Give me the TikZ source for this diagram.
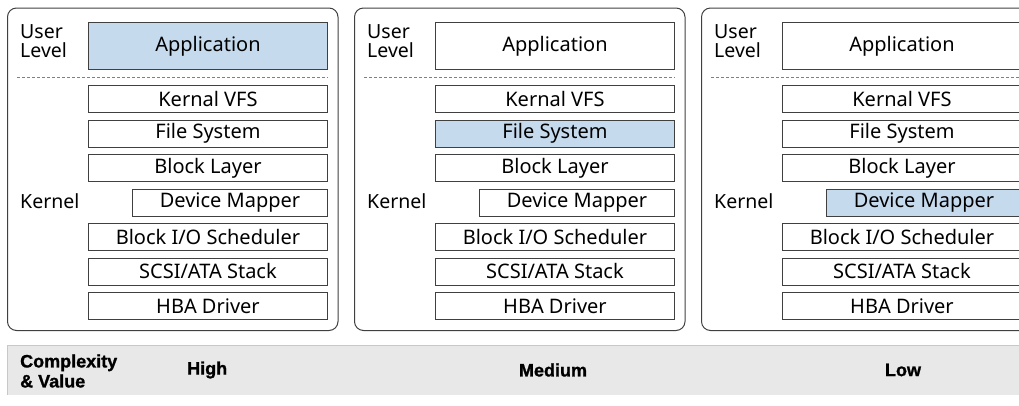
\documentclass[tikz,border=0pt]{standalone}
\usepackage{fontspec}
\setmainfont{Noto Sans}
\newfontfamily\heavyfont[FakeBold=1.2]{Liberation Sans Bold}
\definecolor{selblue}{HTML}{C6DAEE}
\definecolor{edge}{HTML}{404040}
\definecolor{band}{HTML}{E8E8E8}
\definecolor{bandline}{HTML}{C8C8C8}
\begin{document}
\begin{tikzpicture}[x=1pt,y=-1pt,
  panel/.style={draw=edge,line width=1pt,rounded corners=9pt},
  layer/.style={draw=edge,line width=0.9pt,anchor=north west,minimum height=27pt,inner sep=0pt,font=\fontsize{20}{22}\selectfont},
  sidelabel/.style={anchor=west,align=left,inner sep=0pt,font=\fontsize{19.5}{19}\selectfont},
  sep/.style={draw=gray,line width=0.6pt,dash pattern=on 3pt off 2pt},
  bandtext/.style={inner sep=0pt,font=\heavyfont\fontsize{18}{20}\selectfont,align=left}]
\useasboundingbox (0,0) rectangle (1019,405);
\foreach \p/\dx/\ca/\cf/\cd in {1/0/selblue/white/white,2/347/white/selblue/white,3/694/white/white/selblue}{
  \begin{scope}[xshift=\dx pt]
  \draw[panel] (7.5,8) rectangle (338,330.5);
  \node[layer,fill=\ca,minimum width=239pt,minimum height=47pt] (app\p) at (88,22) {Application};
  \coordinate (sl\p) at (17,77);
  \coordinate (sr\p) at (328,77);
  \draw[sep] (sl\p) -- (sr\p);
  \node[layer,minimum width=239pt] (vfs\p) at (88,85) {Kernal VFS};
  \node[layer,fill=\cf,minimum width=239pt] (fs\p) at (88,119.5) {File System};
  \node[layer,minimum width=239pt] (bl\p) at (88,154) {Block Layer};
  \node[layer,fill=\cd,minimum width=195pt] (dm\p) at (132,188.5) {Device Mapper};
  \node[layer,minimum width=239pt] (io\p) at (88,223) {Block I/O Scheduler};
  \node[layer,minimum width=239pt] (scsi\p) at (88,257.5) {SCSI/ATA Stack};
  \node[layer,minimum width=239pt] (hba\p) at (88,292) {HBA Driver};
  \node[sidelabel] (ul\p) at (20,41) {User\\Level};
  \node[sidelabel] (kn\p) at (20,201) {Kernel};
  \end{scope}
}
\path[fill=band] (7,345) rectangle (1025,395);
\draw[bandline,line width=1pt] (7,395) -- (7,345) -- (1025,345);
\node[bandtext,anchor=west] (cv) at (20,371) {Complexity\\\& Value};
\node[bandtext,anchor=west] (hi) at (187,370) {High};
\node[bandtext] (me) at (553,370) {Medium};
\node[bandtext] (lo) at (903,370) {Low};
\end{tikzpicture}
\end{document}
